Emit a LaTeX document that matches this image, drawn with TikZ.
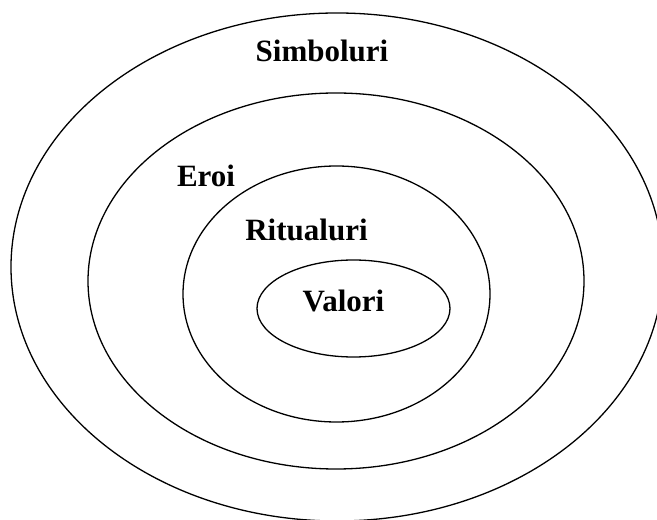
\documentclass[tikz,border=0pt]{standalone}
\usepackage{fontspec}
\setmainfont{Liberation Serif}
\usetikzlibrary{shapes.geometric}
\begin{document}
\begin{tikzpicture}[x=1pt, y=1pt,
  ring/.style={draw, line width=1.3pt, ellipse, inner sep=0pt},
  lbl/.style={font=\fontsize{31}{36}\selectfont\bfseries, anchor=base, inner sep=0pt}]
\useasboundingbox (0,0) rectangle (657,520);
\clip (0,0) rectangle (657,520);
% layers, outer to inner
\node[ring, minimum width=652, minimum height=508] (simb) at (337,253) {};
\node[ring, minimum width=496, minimum height=376] (eroi) at (336,239) {};
\node[ring, minimum width=307, minimum height=256] (rit) at (336.5,226) {};
\node[ring, minimum width=193, minimum height=97] (val) at (353.5,211.5) {};
% labels
\node[lbl] (tsimb) at (322,458) {Simboluri};
\node[lbl] (teroi) at (206,333) {Eroi};
\node[lbl] (trit) at (306.5,279) {Ritualuri};
\node[lbl] (tval) at (343.5,208) {Valori};
\end{tikzpicture}
\end{document}
